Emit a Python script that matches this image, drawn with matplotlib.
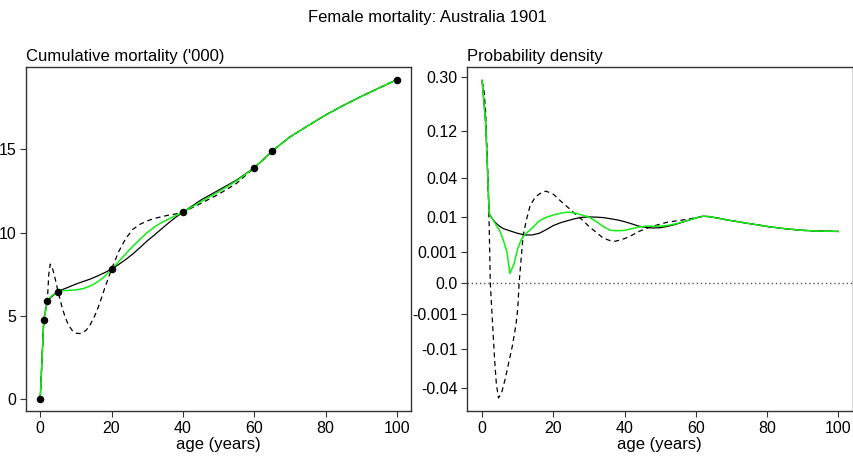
"""Female mortality, Australia 1901: cumulative deaths and density, three interpolations."""

import numpy as np
import matplotlib

matplotlib.use("Agg")
import matplotlib.pyplot as plt

plt.rcParams["font.family"] = ["Liberation Sans", "DejaVu Sans"]

# knots of the cumulative mortality ('000)
knot_age = [0, 1, 2, 5, 20, 40, 60, 65, 100]
knot_cum = [0.0, 4.75, 5.9, 6.45, 7.8, 11.22, 13.9, 14.9, 19.2]

# cumulative mortality curves ('000)
cum_age = [0, 1, 2, 3, 4, 5, 6, 8, 10, 12, 14, 16, 18, 20, 22, 24, 26, 28, 30, 32, 34, 36, 38, 40,
           45, 50, 55, 60, 62.5, 65, 70, 75, 80, 85, 90, 95, 100]
cum_black = [0.0, 4.75, 5.9, 6.1, 6.28, 6.45, 6.55, 6.72, 6.9, 7.05, 7.2, 7.38, 7.58, 7.8, 8.08, 8.38,
             8.72, 9.1, 9.5, 9.85, 10.22, 10.58, 10.92, 11.22,
             11.95, 12.55, 13.15, 13.9, 14.38, 14.9, 15.75, 16.42, 17.07, 17.65, 18.19, 18.7, 19.2]
cum_green = [0.0, 4.75, 5.9, 6.15, 6.32, 6.45, 6.5, 6.52, 6.55, 6.62, 6.78, 7.02, 7.35, 7.8, 8.25, 8.72,
             9.18, 9.6, 10.0, 10.33, 10.6, 10.82, 11.02, 11.22,
             11.85, 12.45, 13.1, 13.9, 14.38, 14.9, 15.75, 16.42, 17.07, 17.65, 18.19, 18.7, 19.2]

dash_age = [0, 1, 2, 2.4, 2.8, 3.3, 4, 5, 6, 7, 8, 9, 10, 11, 12, 13, 14, 15, 16, 17, 18, 19, 20,
            22, 24, 26, 28, 30, 32, 34, 36, 38, 40, 45, 50, 55, 60, 62.5, 65, 70, 75, 80, 85, 90, 95, 100]
cum_dash = [0.0, 4.75, 5.9, 7.5, 8.1, 7.95, 7.4, 6.45, 5.6, 4.9, 4.4, 4.1, 3.95, 3.92, 3.98, 4.15,
            4.45, 4.85, 5.35, 5.95, 6.6, 7.2, 7.8,
            8.85, 9.65, 10.2, 10.5, 10.7, 10.85, 10.95, 11.05, 11.12, 11.22, 11.75, 12.3, 12.95,
            13.9, 14.38, 14.9, 15.75, 16.42, 17.07, 17.65, 18.19, 18.7, 19.2]

# probability density curves
den_age = [0, 1, 2, 3, 4, 5, 6, 8, 10, 12, 14, 16, 18, 20, 22, 24, 26, 28, 30, 32, 34, 36, 38, 40,
           42, 44, 46, 48, 50, 52, 54, 56, 58, 60, 62, 64, 66, 70, 75, 80, 85, 90, 95, 100]
den_black = [0.285, 0.14, 0.0114, 0.0088, 0.0072, 0.0062, 0.0055, 0.0048, 0.0042, 0.0038, 0.0038,
             0.0042, 0.0052, 0.0065, 0.0075, 0.0083, 0.0091, 0.0097, 0.0099, 0.0098, 0.0096, 0.0091,
             0.0086, 0.0079, 0.0071, 0.0063, 0.0059, 0.0057, 0.0058, 0.0062, 0.0068, 0.0076, 0.0085,
             0.0094, 0.0102, 0.0100, 0.0094, 0.0083, 0.0072, 0.0062, 0.0055, 0.0050, 0.0048, 0.0047]

green_age = [0, 1, 2, 3, 4, 5, 6, 7, 7.8, 9, 10, 11, 12, 14, 16, 18, 20, 22, 24, 26, 28, 30, 32, 34,
             36, 38, 40, 42, 44, 46, 48, 50, 52, 54, 56, 58, 60, 62, 64, 66, 70, 75, 80, 85, 90, 95, 100]
den_green = [0.285, 0.14, 0.0114, 0.0088, 0.0066, 0.0048, 0.0026, 0.001, 0.00003, 0.00025, 0.0014,
             0.0028, 0.0039, 0.0056, 0.0082, 0.0097, 0.0108, 0.0116, 0.0122, 0.0118, 0.0108, 0.0098,
             0.0080, 0.0062, 0.0050, 0.0049, 0.0050, 0.0055, 0.0060, 0.0063, 0.0063, 0.0063, 0.0065,
             0.0070, 0.0077, 0.0085, 0.0094, 0.0102, 0.0100, 0.0094, 0.0083, 0.0072, 0.0062, 0.0055,
             0.0050, 0.0048, 0.0047]

ddash_age = [0, 0.5, 1, 1.5, 2, 2.3, 3, 3.5, 4, 4.6, 5.5, 6.5, 7.5, 8.5, 9.5, 10, 10.4, 11, 11.5, 12.5,
             13.5, 15, 17, 18, 20, 22, 24, 26, 28, 30, 32, 34, 36, 37.5, 40, 42, 44, 46, 48, 50, 52,
             54, 56, 58, 60, 62, 64, 66, 70, 75, 80, 85, 90, 95, 100]
den_dash = [0.28, 0.25, 0.17, 0.06, 0.006, 0.0, -0.003, -0.015, -0.035, -0.052, -0.045, -0.03, -0.017,
            -0.0085, -0.0025, -0.0006, 0.0, 0.0006, 0.0035, 0.009, 0.016, 0.022, 0.026, 0.0265, 0.024,
            0.019, 0.015, 0.0115, 0.0088, 0.0062, 0.0045, 0.0031, 0.0026, 0.0025, 0.003, 0.0037,
            0.0047, 0.0055, 0.0063, 0.0070, 0.0077, 0.0081, 0.0085, 0.0090, 0.0095, 0.0102, 0.0100,
            0.0094, 0.0083, 0.0072, 0.0062, 0.0055, 0.0050, 0.0048, 0.0047]

den_ticks = [-0.04, -0.01, -0.001, 0.0, 0.001, 0.01, 0.04, 0.12, 0.30]
den_tick_labels = ["-0.04", "-0.01", "-0.001", "0.0", "0.001", "0.01", "0.04", "0.12", "0.30"]

GREEN = "#11ee11"
DASH = (0, (4, 3))


def _style_axis(ax):
    for spine in ax.spines.values():
        spine.set_color("#333333")
        spine.set_linewidth(1.0)
    ax.tick_params(direction="out", length=4, width=0.8, color="#333333",
                   labelsize=11.5, pad=3)
    ax.set_xticks([0, 20, 40, 60, 80, 100])
    ax.set_xlabel("age (years)", fontsize=12, labelpad=1)


fig = plt.figure(figsize=(8.54, 4.58), dpi=100)
ax1 = fig.add_axes([0.0304, 0.1026, 0.4506, 0.751])
ax2 = fig.add_axes([0.547, 0.1026, 0.4513, 0.751])

# left: cumulative mortality
ax1.plot(dash_age, cum_dash, color="black", lw=0.9, linestyle=DASH)
ax1.plot(cum_age, cum_black, color="black", lw=0.9)
ax1.plot(cum_age, cum_green, color=GREEN, lw=1.1)
ax1.plot(knot_age, knot_cum, "o", color="black", ms=4.4, zorder=5)
ax1.set_xlim(-4.0, 103.9)
ax1.set_ylim(-0.74, 19.96)
ax1.set_yticks([0, 5, 10, 15])
_style_axis(ax1)
ax1.set_title("Cumulative mortality ('000)", loc="left", fontsize=12, pad=4)

# right: probability density on a signed cube-root scale
ax2.set_yscale("function", functions=(np.cbrt, lambda v: np.power(v, 3)))
ax2.axhline(0, color="#555555", lw=1.0, linestyle=(0, (1, 2)))
ax2.plot(ddash_age, den_dash, color="black", lw=0.9, linestyle=DASH)
ax2.plot(den_age, den_black, color="black", lw=0.9)
ax2.plot(green_age, den_green, color=GREEN, lw=1.1)
ax2.set_xlim(-4.2, 104.0)
ax2.set_ylim(-0.0718, 0.345)
ax2.set_yticks(den_ticks)
ax2.set_yticklabels(den_tick_labels)
ax2.minorticks_off()
_style_axis(ax2)
ax2.set_title("Probability density", loc="left", fontsize=12, pad=4)

fig.text(0.5, 0.961, "Female mortality: Australia 1901", ha="center", va="center", fontsize=12)

fig.savefig("out.png", dpi=100)
